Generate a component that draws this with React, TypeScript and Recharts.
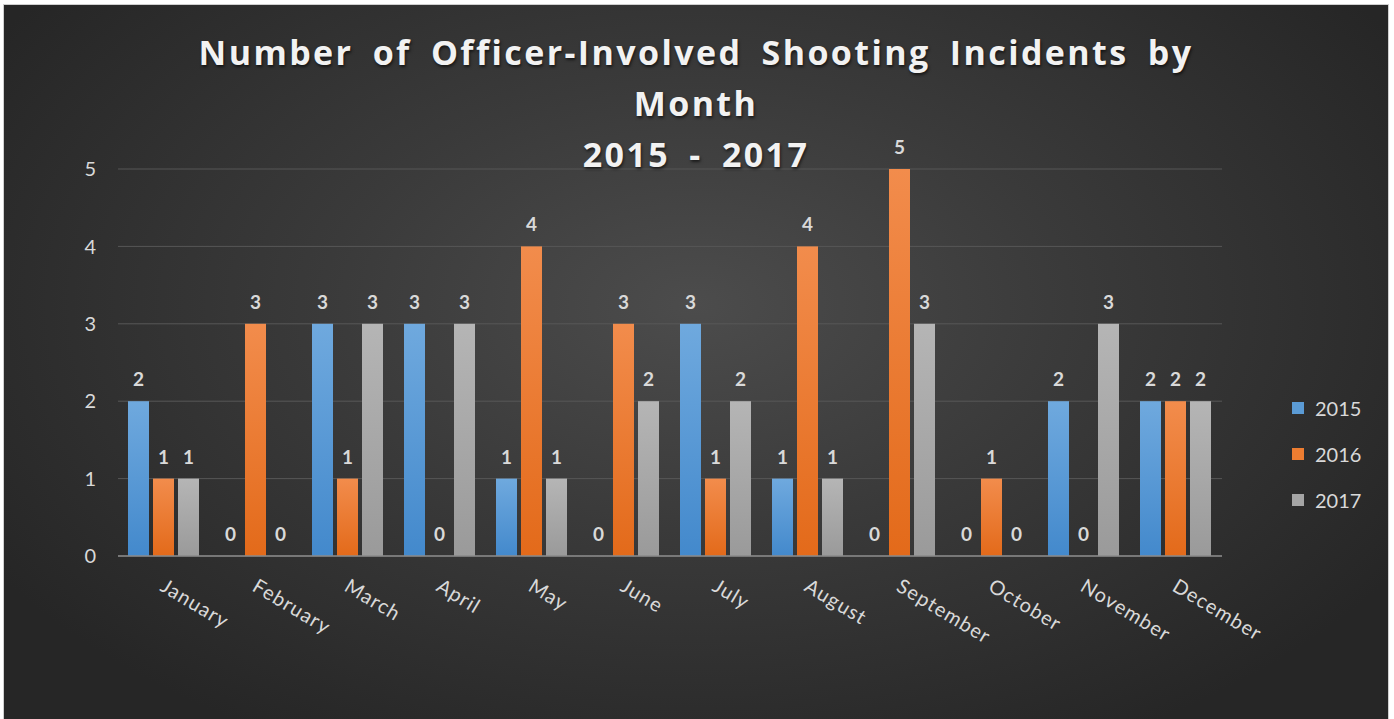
import { BarChart, Bar, XAxis, YAxis, CartesianGrid } from 'recharts'

const MONTHS = ['January', 'February', 'March', 'April', 'May', 'June', 'July', 'August', 'September', 'October', 'November', 'December']
const VALUES_2015 = [2, 0, 3, 3, 1, 0, 3, 1, 0, 0, 2, 2]
const VALUES_2016 = [1, 3, 1, 0, 4, 3, 1, 4, 5, 1, 0, 2]
const VALUES_2017 = [1, 0, 3, 3, 1, 2, 2, 1, 3, 0, 3, 2]
const Y_TICKS = [0, 1, 2, 3, 4, 5]
const TITLE_LINES = ['Number of Officer-Involved Shooting Incidents by', 'Month', '2015 - 2017']

const SERIES = [
  { key: 'y2015', name: '2015', top: '#6fa9de', bottom: '#4389cc', swatch: '#5b9bd5' },
  { key: 'y2016', name: '2016', top: '#f28c4c', bottom: '#e36a1a', swatch: '#ed7d31' },
  { key: 'y2017', name: '2017', top: '#b5b5b5', bottom: '#9a9a9a', swatch: '#a5a5a5' },
]

const data = MONTHS.map((month, i) => ({
  month,
  y2015: VALUES_2015[i],
  y2016: VALUES_2016[i],
  y2017: VALUES_2017[i],
}))

const FONT = 'Lato, "Open Sans", sans-serif'
const TEXT = '#d9d9d9'

function MonthTick({ x, y, payload }: any) {
  const px = x - 5
  const py = y + 32
  return (
    <text
      x={px}
      y={py}
      transform={`rotate(31 ${px} ${py})`}
      fill={TEXT}
      fontSize={20}
      letterSpacing={1.1}
      fontFamily={FONT}
      textAnchor="start"
    >
      {payload.value}
    </text>
  )
}

// bar plus its value label, so zero values still get a "0"
function BarWithLabel(props: any) {
  const { x, y, width, height, fill, value } = props
  const v = Array.isArray(value) ? value[1] - value[0] : value
  return (
    <g>
      {height > 0 && <rect x={x} y={y} width={width} height={height} fill={fill} />}
      <text
        x={x + width / 2}
        y={y - 15}
        textAnchor="middle"
        fill={TEXT}
        fontSize={19}
        fontWeight="bold"
        fontFamily={FONT}
      >
        {v}
      </text>
    </g>
  )
}

export default function App() {
  return (
    <div style={{ position: 'fixed', left: 0, top: 0, width: 1394, height: 719, background: '#ffffff' }}>
      <div
        style={{
          position: 'absolute',
          left: 4,
          top: 5,
          width: 1384,
          height: 714,
          background: 'radial-gradient(ellipse 60% 70% at 50% 42%, #4c4c4c 0%, #3a3a3a 45%, #262626 100%)',
          boxShadow: '0 0 0 1px #cfcfcf',
        }}
      >
        <BarChart
          width={1384}
          height={714}
          data={data}
          margin={{ top: 164, right: 166, bottom: 0, left: 0 }}
          barCategoryGap={10}
          barGap={4}
        >
          <defs>
            {SERIES.map((s) => (
              <linearGradient key={s.key} id={`grad-${s.key}`} x1="0" y1="0" x2="0" y2="1">
                <stop offset="0%" stopColor={s.top} />
                <stop offset="100%" stopColor={s.bottom} />
              </linearGradient>
            ))}
          </defs>
          <CartesianGrid vertical={false} stroke="#575757" strokeWidth={1} />
          <XAxis
            dataKey="month"
            height={163}
            interval={0}
            tickLine={false}
            tickSize={0}
            axisLine={{ stroke: '#8a8a8a', strokeWidth: 1.5 }}
            tick={<MonthTick />}
          />
          <YAxis
            width={114}
            domain={[0, 5]}
            ticks={Y_TICKS}
            axisLine={false}
            tickLine={false}
            tickSize={0}
            tickMargin={22}
            tick={{ fill: TEXT, fontSize: 20, fontFamily: FONT }}
          />
          {SERIES.map((s) => (
            <Bar
              key={s.key}
              dataKey={s.key}
              name={s.name}
              fill={`url(#grad-${s.key})`}
              shape={<BarWithLabel />}
              isAnimationActive={false}
            />
          ))}
        </BarChart>
        <div style={{ position: 'absolute', left: 1288, top: 380, fontFamily: FONT }}>
          {SERIES.map((s) => (
            <div key={s.key} style={{ display: 'flex', alignItems: 'center', height: 46 }}>
              <span style={{ width: 12, height: 12, background: s.swatch, marginRight: 11, display: 'inline-block' }} />
              <span style={{ color: TEXT, fontSize: 20 }}>{s.name}</span>
            </div>
          ))}
        </div>
        <div
          style={{
            position: 'absolute',
            left: 0,
            top: 22,
            width: 1384,
            textAlign: 'center',
            color: '#f2f2f2',
            fontFamily: '"Open Sans", sans-serif',
            fontWeight: 700,
            fontSize: 34,
            lineHeight: '51px',
            letterSpacing: 2.4,
            wordSpacing: 8,
            textShadow: '1px 2px 3px rgba(0,0,0,0.6)',
            pointerEvents: 'none',
          }}
        >
          {TITLE_LINES.map((line) => (
            <div key={line}>{line}</div>
          ))}
        </div>
      </div>
    </div>
  )
}
